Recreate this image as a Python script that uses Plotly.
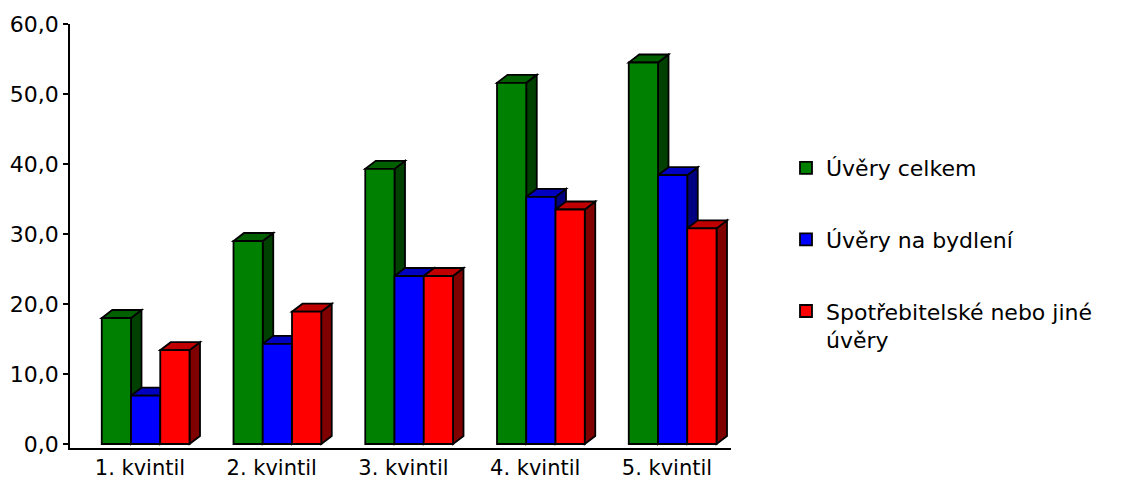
import plotly.graph_objects as go

# Share of households holding loans, by income quintile
categories = ["1. kvintil", "2. kvintil", "3. kvintil", "4. kvintil", "5. kvintil"]
series_names = ["Úvěry celkem", "Úvěry na bydlení", "Spotřebitelské nebo jiné<br>úvěry"]
uvery_celkem = [18.0, 29.0, 39.3, 51.6, 54.5]
uvery_na_bydleni = [6.9, 14.3, 24.0, 35.3, 38.4]
spotrebitelske = [13.4, 18.9, 24.0, 33.5, 30.8]
y_ticks = [0, 10, 20, 30, 40, 50, 60]

series_values = [uvery_celkem, uvery_na_bydleni, spotrebitelske]
# front, side, top face colours for each series
face_colors = [
    ("#008000", "#004000", "#006000"),
    ("#0000FF", "#000080", "#0000C0"),
    ("#FF0000", "#800000", "#C00000"),
]

# figure geometry
W, H = 1121, 479
M_L, M_R, M_T, M_B = 70, 390, 24, 31
X_RANGE = [-0.531, 4.486]
Y_RANGE = [-0.571, 60]
BAR_W = 0.222
GROUP_SHIFT = 0.043
DEPTH_PX = (10.5, 8.0)
FONT = "DejaVu Sans"
FONT_SIZE = 22

plot_w = W - M_L - M_R
plot_h = H - M_T - M_B
dx = DEPTH_PX[0] * (X_RANGE[1] - X_RANGE[0]) / plot_w
dy = DEPTH_PX[1] * (Y_RANGE[1] - Y_RANGE[0]) / plot_h

fig = go.Figure()
shapes = []
for k, (name, vals, cols) in enumerate(zip(series_names, series_values, face_colors)):
    xs = [i + GROUP_SHIFT + (k - 1) * BAR_W for i in range(len(categories))]
    fig.add_trace(go.Bar(
        x=xs, y=vals, width=BAR_W, name=name, legendgroup=str(k),
        marker=dict(color=cols[0], line=dict(color="black", width=1.8)),
        hovertemplate=name + ": %{y:.1f}<extra></extra>",
    ))
    # side and top faces giving the bars their depth
    for x, h in zip(xs, vals):
        x0, x1 = x - BAR_W / 2, x + BAR_W / 2
        side = f"M{x1},0 L{x1 + dx},{dy} L{x1 + dx},{h + dy} L{x1},{h} Z"
        top = f"M{x0},{h} L{x1},{h} L{x1 + dx},{h + dy} L{x0 + dx},{h + dy} Z"
        for path, col in ((side, cols[1]), (top, cols[2])):
            shapes.append(dict(type="path", path=path, xref="x", yref="y",
                               fillcolor=col, line=dict(color="black", width=1.8),
                               layer="below"))

fig.update_layout(
    width=W, height=H, autosize=False,
    margin=dict(l=M_L, r=M_R, t=M_T, b=M_B, pad=0),
    paper_bgcolor="white", plot_bgcolor="white",
    barmode="overlay",
    separators=", ",
    shapes=shapes,
    font=dict(family=FONT, size=FONT_SIZE, color="black"),
    xaxis=dict(
        range=X_RANGE, tickmode="array", tickvals=list(range(len(categories))),
        ticktext=categories, showgrid=False, zeroline=False, automargin=False,
        showline=True, linecolor="black", linewidth=1.5, ticks="",
        tickfont=dict(family=FONT, size=21, color="black"), fixedrange=True,
    ),
    yaxis=dict(
        range=Y_RANGE, tickmode="array", tickvals=y_ticks,
        ticktext=[f"{v:.1f}".replace(".", ",") for v in y_ticks],
        showgrid=False, zeroline=False, automargin=False,
        showline=True, linecolor="black", linewidth=1.5,
        ticks="outside", ticklen=5, tickcolor="black", tickwidth=1.5,
        tickfont=dict(family=FONT, size=FONT_SIZE, color="black"), fixedrange=True,
    ),
    legend=dict(
        x=(786 - M_L) / plot_w, y=(H - M_B - 147) / plot_h,
        xanchor="left", yanchor="top",
        font=dict(family=FONT, size=FONT_SIZE, color="black"),
        tracegroupgap=40, valign="top", bgcolor="rgba(0,0,0,0)",
    ),
    showlegend=True,
)

fig.write_html("out.html")
